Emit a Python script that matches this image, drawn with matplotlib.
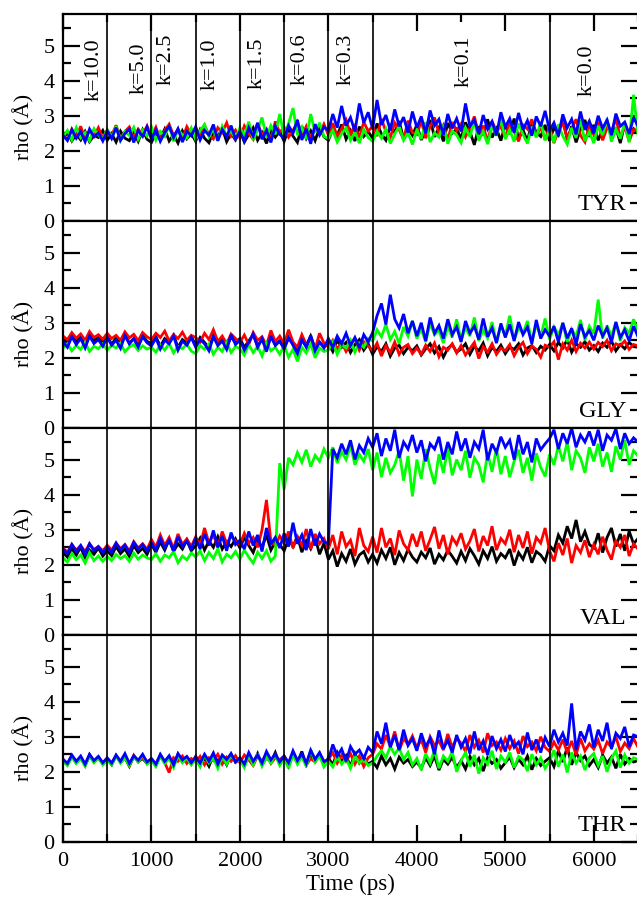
import matplotlib
matplotlib.use("Agg")
import matplotlib.pyplot as plt
from matplotlib.ticker import MultipleLocator

# ---------------- data ----------------
time_ps = list(range(0, 6501, 50))

tyr_black = [2.35,2.52,2.28,2.47,2.31,2.55,2.26,2.44,2.38,2.58,
             2.30,2.49,2.25,2.56,2.36,2.29,2.53,2.27,2.60,2.33,
             2.24,2.51,2.35,2.62,2.28,2.46,2.22,2.57,2.34,2.49,
             2.27,2.60,2.36,2.23,2.55,2.41,2.64,2.26,2.50,2.31,
             2.58,2.25,2.47,2.66,2.30,2.52,2.21,2.61,2.39,2.55,
             2.27,2.63,2.42,2.24,2.70,2.35,2.57,2.29,2.66,2.40,
             2.30,2.62,2.45,2.75,2.33,2.58,2.28,2.69,2.41,2.55,
             2.36,2.78,2.48,2.30,2.71,2.52,2.85,2.33,2.62,2.44,
             2.74,2.31,2.58,2.88,2.40,2.66,2.27,2.79,2.50,2.62,
             2.35,2.81,2.55,2.17,2.70,2.44,2.90,2.38,2.63,2.29,
             2.76,2.48,2.92,2.34,2.60,2.27,2.83,2.52,2.41,2.74,
             2.28,2.67,2.46,2.95,2.32,2.70,2.24,2.61,2.88,2.40,
             2.74,2.30,2.59,2.85,2.37,2.66,2.22,2.78,2.45,2.63,
             2.50]
tyr_red = [2.48,2.30,2.62,2.39,2.70,2.33,2.57,2.41,2.66,2.36,
           2.59,2.44,2.73,2.31,2.55,2.68,2.38,2.62,2.45,2.71,
           2.40,2.67,2.32,2.58,2.76,2.43,2.61,2.35,2.69,2.47,
           2.63,2.37,2.72,2.46,2.34,2.66,2.52,2.80,2.42,2.59,
           2.36,2.71,2.49,2.33,2.78,2.45,2.62,2.30,2.84,2.51,
           2.67,2.39,2.58,2.82,2.41,2.70,2.35,2.64,2.47,2.76,
           2.45,2.79,2.40,2.63,2.88,2.48,2.71,2.37,2.82,2.56,
           2.70,2.42,2.91,2.55,2.38,2.80,2.60,2.33,2.86,2.52,
           2.47,2.85,2.36,2.68,2.95,2.50,2.73,2.29,2.82,2.58,
           2.77,2.40,2.66,2.98,2.45,2.72,2.24,2.84,2.56,2.70,
           2.38,2.80,2.55,2.27,2.74,2.62,2.90,2.41,2.68,2.31,
           2.69,2.22,2.58,2.80,2.35,2.63,2.90,2.44,2.25,2.72,
           2.46,2.83,2.30,2.65,2.55,2.92,2.38,2.70,2.27,2.61,
           2.55]
tyr_green = [2.40,2.58,2.31,2.66,2.37,2.52,2.29,2.63,2.45,2.34,
             2.61,2.38,2.70,2.29,2.55,2.44,2.67,2.33,2.59,2.42,
             2.68,2.30,2.55,2.41,2.72,2.27,2.60,2.46,2.36,2.65,
             2.32,2.58,2.75,2.40,2.62,2.28,2.70,2.44,2.57,2.35,
             2.66,2.42,2.83,2.31,2.60,2.95,2.38,2.72,2.47,3.05,
             2.40,2.78,3.22,2.45,2.68,2.33,3.05,2.52,2.80,2.41,
             2.35,2.58,2.25,2.49,2.66,2.30,2.54,2.22,2.61,2.38,
             2.27,2.55,2.36,2.62,2.21,2.48,2.70,2.30,2.52,2.18,
             2.60,2.34,2.82,2.25,2.51,2.39,2.74,2.20,2.57,2.45,
             2.23,2.66,2.40,2.85,2.29,2.55,2.19,2.71,2.43,2.92,
             2.34,2.60,2.26,2.78,2.47,2.21,2.69,2.38,2.83,2.30,
             2.58,2.24,2.75,2.42,2.19,2.65,2.37,2.88,2.28,2.54,
             2.22,2.71,2.45,2.90,2.26,2.62,2.35,2.80,2.24,3.60,
             2.45]
tyr_blue = [2.44,2.30,2.60,2.36,2.55,2.26,2.62,2.40,2.51,2.28,
            2.57,2.35,2.66,2.30,2.49,2.62,2.24,2.58,2.41,2.68,
            2.33,2.60,2.27,2.52,2.70,2.38,2.63,2.25,2.56,2.43,
            2.69,2.31,2.58,2.45,2.75,2.29,2.61,2.40,2.72,2.34,
            2.55,2.28,2.66,2.42,2.80,2.33,2.58,2.24,2.70,2.47,
            2.36,2.72,2.50,2.88,2.31,2.63,2.20,2.76,2.45,2.68,
            2.58,3.05,2.66,3.28,2.72,2.95,2.55,3.35,2.80,3.10,
            2.62,3.45,2.74,3.02,2.58,3.18,2.70,2.96,2.52,3.12,
            2.66,2.98,2.50,3.15,2.72,2.90,2.46,3.05,2.64,2.92,
            2.55,3.35,2.70,2.88,2.48,3.02,2.62,2.84,2.44,3.10,
            2.68,2.92,2.52,3.08,2.60,2.86,2.43,2.98,2.70,3.14,
            2.58,2.80,2.42,3.04,2.66,2.90,2.47,3.12,2.60,2.85,
            2.50,3.00,2.64,2.88,2.45,3.06,2.70,2.82,2.48,2.95,
            2.70]

gly_black = [2.55,2.42,2.66,2.48,2.60,2.40,2.70,2.50,2.58,2.44,
             2.62,2.38,2.57,2.46,2.68,2.41,2.55,2.35,2.63,2.47,
             2.40,2.60,2.33,2.55,2.45,2.65,2.30,2.52,2.42,2.61,
             2.36,2.58,2.44,2.28,2.62,2.40,2.53,2.30,2.60,2.43,
             2.55,2.30,2.48,2.66,2.34,2.52,2.25,2.60,2.38,2.47,
             2.28,2.56,2.40,2.20,2.50,2.34,2.62,2.27,2.45,2.31,
             2.42,2.18,2.50,2.30,2.44,2.15,2.38,2.52,2.22,2.40,
             2.10,2.32,2.18,2.40,2.05,2.28,2.36,2.12,2.30,2.20,
             2.34,2.08,2.26,2.40,2.14,2.32,2.02,2.27,2.38,2.16,
             2.25,2.40,2.10,2.33,2.20,2.42,2.06,2.30,2.18,2.36,
             2.12,2.31,2.24,2.40,2.08,2.28,2.35,2.15,2.33,2.22,
             2.38,2.20,2.44,2.28,2.52,2.16,2.40,2.30,2.46,2.22,
             2.35,2.18,2.42,2.30,2.48,2.20,2.38,2.26,2.44,2.32,
             2.30]
gly_red = [2.62,2.52,2.72,2.56,2.68,2.50,2.75,2.58,2.66,2.53,
           2.70,2.55,2.64,2.50,2.74,2.57,2.67,2.49,2.72,2.60,
           2.52,2.70,2.58,2.76,2.48,2.66,2.55,2.73,2.50,2.64,
           2.58,2.45,2.70,2.52,2.80,2.47,2.62,2.40,2.68,2.55,
           2.44,2.65,2.38,2.72,2.50,2.60,2.35,2.78,2.46,2.62,
           2.40,2.80,2.45,2.30,2.66,2.38,2.55,2.25,2.70,2.42,
           2.30,2.50,2.25,2.44,2.18,2.38,2.55,2.22,2.46,2.34,
           2.20,2.42,2.05,2.35,2.15,2.45,2.10,2.30,2.38,2.12,
           2.28,2.10,2.36,2.18,2.42,2.03,2.30,2.22,2.40,2.14,
           2.35,2.08,2.26,2.44,1.98,2.32,2.16,2.40,2.10,2.28,
           2.20,2.38,2.06,2.30,2.44,2.12,2.34,2.24,2.02,2.36,
           2.30,2.46,1.95,2.40,2.22,2.50,2.18,2.42,2.28,2.45,
           2.25,2.44,2.32,2.50,2.20,2.40,2.35,2.48,2.24,2.38,
           2.34]
gly_green = [2.28,2.40,2.20,2.35,2.24,2.44,2.18,2.33,2.26,2.40,
             2.22,2.36,2.28,2.42,2.17,2.31,2.38,2.21,2.34,2.25,
             2.30,2.16,2.37,2.22,2.41,2.14,2.33,2.26,2.39,2.19,
             2.12,2.35,2.24,2.40,2.10,2.30,2.18,2.44,2.15,2.32,
             2.26,2.08,2.38,2.15,2.33,2.05,2.42,2.20,2.30,2.10,
             2.35,2.02,2.24,1.90,2.30,2.14,2.40,2.00,2.28,2.18,
             2.22,2.45,2.10,2.38,2.28,2.50,2.16,2.42,2.30,2.55,
             2.48,2.80,2.60,2.95,2.52,2.75,2.40,2.88,2.62,3.05,
             2.55,2.82,2.45,2.98,2.66,2.78,2.42,2.90,2.58,3.10,
             2.50,2.86,2.62,3.15,2.48,2.80,2.56,3.02,2.44,2.92,
             2.64,3.20,2.50,2.85,2.70,3.05,2.46,2.95,2.60,3.12,
             2.52,2.88,2.66,2.98,2.45,2.82,2.60,3.08,2.50,2.90,
             2.68,3.66,2.55,2.92,2.62,3.02,2.48,2.86,2.70,3.10,
             2.75]
gly_blue = [2.45,2.30,2.60,2.38,2.55,2.28,2.62,2.41,2.52,2.33,
            2.58,2.36,2.50,2.27,2.63,2.40,2.55,2.31,2.60,2.43,
            2.34,2.56,2.25,2.50,2.40,2.62,2.22,2.48,2.36,2.58,
            2.30,2.52,2.40,2.20,2.60,2.35,2.48,2.24,2.66,2.38,
            2.50,2.22,2.44,2.68,2.30,2.55,2.18,2.62,2.35,2.48,
            2.25,2.58,2.36,2.12,2.52,2.30,2.64,2.20,2.45,2.28,
            2.55,2.30,2.62,2.40,2.70,2.35,2.58,2.28,2.66,2.45,
            2.72,3.20,3.55,2.95,3.80,3.10,2.85,3.25,2.70,3.05,
            2.62,3.00,2.48,3.15,2.70,2.92,2.55,3.10,2.66,2.88,
            2.45,3.05,2.70,2.90,2.52,3.12,2.60,2.85,2.42,2.98,
            2.58,2.95,2.48,3.02,2.66,2.88,2.40,3.08,2.55,2.80,
            2.62,2.90,2.45,3.00,2.56,2.84,2.38,2.96,2.60,2.78,
            2.50,2.92,2.62,2.85,2.44,3.02,2.58,2.80,2.48,2.90,
            2.60]

val_black = [2.35,2.22,2.46,2.28,2.50,2.20,2.42,2.30,2.48,2.25,
             2.40,2.26,2.52,2.32,2.45,2.24,2.55,2.35,2.47,2.30,
             2.58,2.36,2.65,2.42,2.72,2.38,2.60,2.45,2.70,2.40,
             2.55,2.76,2.42,2.68,2.50,2.80,2.45,2.66,2.52,2.74,
             2.48,2.78,2.55,2.35,2.70,2.50,2.85,2.42,2.66,2.58,
             2.40,2.75,2.52,2.82,2.36,2.68,2.46,2.78,2.30,2.62,
             2.15,2.40,1.95,2.32,2.10,2.45,2.02,2.28,2.38,2.08,
             2.30,2.05,2.42,2.18,2.50,2.00,2.35,2.12,2.44,2.22,
             2.08,2.36,2.20,2.48,2.02,2.30,2.14,2.42,2.24,2.05,
             2.38,2.12,2.46,2.26,2.02,2.40,2.18,2.52,2.10,2.32,
             2.20,2.45,1.98,2.35,2.16,2.50,2.06,2.38,2.28,2.10,
             2.55,2.40,2.85,2.62,3.10,2.75,3.28,2.66,2.95,2.58,
             2.48,2.90,2.35,2.78,3.05,2.52,2.88,2.40,2.96,2.60,
             2.75]
val_red = [2.48,2.36,2.58,2.42,2.55,2.38,2.60,2.44,2.52,2.40,
           2.56,2.42,2.62,2.46,2.58,2.40,2.66,2.48,2.60,2.44,
           2.72,2.50,2.85,2.55,2.78,2.46,2.88,2.58,2.74,2.52,
           2.80,2.55,3.05,2.62,2.86,2.50,2.95,2.60,2.82,2.68,
           2.58,2.90,2.62,2.78,2.50,3.00,3.85,2.66,2.55,2.82,
           2.62,2.95,2.48,2.80,2.56,3.02,2.45,2.88,2.60,2.75,
           2.45,2.85,2.30,2.95,2.52,2.70,2.25,3.05,2.55,2.38,
           2.80,2.35,3.05,2.50,2.75,2.28,2.98,2.60,2.42,2.88,
           2.52,2.95,2.40,2.72,3.08,2.46,2.85,2.30,2.78,2.58,
           2.90,2.45,2.68,3.02,2.38,2.82,2.55,3.10,2.42,2.75,
           2.60,3.00,2.36,2.85,2.48,2.95,2.32,2.78,2.62,3.05,
           2.40,2.10,2.62,2.28,2.75,2.05,2.55,2.35,2.70,2.22,
           2.58,2.30,2.80,2.42,2.15,2.68,2.50,2.85,2.25,2.60,
           2.45]
val_green = [2.20,2.08,2.32,2.15,2.28,2.05,2.35,2.12,2.25,2.10,
             2.24,2.12,2.30,2.18,2.26,2.10,2.33,2.16,2.28,2.20,
             2.15,2.32,2.10,2.28,2.20,2.38,2.06,2.25,2.14,2.34,
             2.22,2.40,2.12,2.35,2.18,2.45,2.08,2.30,2.20,2.38,
             2.16,2.42,2.22,2.05,2.36,2.18,2.40,2.10,2.25,4.90,
             4.15,5.05,4.85,5.20,4.92,5.28,4.80,5.12,4.95,5.30,
             5.05,5.35,4.90,5.22,5.00,5.40,4.85,5.15,4.95,5.30,
             4.70,5.20,4.50,5.05,4.62,4.85,5.25,4.40,5.10,3.95,
             5.00,4.45,5.30,4.75,4.30,5.15,4.62,5.35,4.55,5.00,
             4.70,5.25,4.48,5.05,4.85,4.35,5.20,4.65,5.32,4.58,
             5.10,4.50,4.95,5.28,4.62,5.05,4.40,5.18,4.78,4.52,
             5.15,4.85,5.40,4.95,5.50,4.70,5.25,5.05,4.62,5.35,
             4.95,5.45,4.80,5.20,4.65,5.38,5.00,5.55,4.85,5.25,
             5.10]
val_blue = [2.45,2.32,2.58,2.38,2.55,2.30,2.60,2.40,2.52,2.35,
            2.50,2.36,2.62,2.42,2.56,2.34,2.64,2.45,2.58,2.40,
            2.62,2.42,2.75,2.48,2.70,2.40,2.80,2.52,2.68,2.45,
            2.75,2.45,2.88,2.55,2.98,2.50,2.82,2.40,2.92,2.58,
            2.70,2.45,2.95,2.55,2.85,2.38,3.05,2.60,2.78,2.48,
            2.90,2.52,3.20,2.60,2.85,2.42,3.02,2.55,2.88,2.65,
            2.60,5.30,5.05,5.45,5.15,5.55,5.00,5.40,5.20,5.60,
            5.35,5.75,5.10,5.60,5.25,5.85,5.05,5.50,5.30,5.70,
            5.20,5.55,4.95,5.45,5.30,5.65,5.00,5.50,5.15,5.80,
            5.25,5.60,5.05,5.50,5.30,5.85,4.98,5.45,5.20,5.65,
            5.35,5.55,5.00,5.70,5.15,5.50,4.92,5.60,5.28,5.45,
            5.60,5.85,5.30,5.75,5.45,5.90,5.35,5.70,5.50,5.80,
            5.40,5.85,5.25,5.70,5.55,5.88,5.30,5.75,5.45,5.62,
            5.50]

thr_black = [2.32,2.20,2.45,2.25,2.40,2.18,2.48,2.28,2.42,2.22,
             2.36,2.20,2.46,2.27,2.40,2.16,2.44,2.30,2.38,2.24,
             2.34,2.18,2.47,2.26,2.42,2.20,2.50,2.28,2.38,2.22,
             2.44,2.25,2.38,2.16,2.48,2.30,2.42,2.20,2.50,2.27,
             2.35,2.18,2.46,2.24,2.52,2.20,2.40,2.28,2.55,2.22,
             2.38,2.15,2.50,2.26,2.58,2.20,2.45,2.30,2.52,2.18,
             2.40,2.20,2.55,2.28,2.46,2.15,2.52,2.25,2.42,2.22,
             2.30,2.12,2.45,2.20,2.38,2.08,2.42,2.25,2.35,2.15,
             2.28,2.10,2.40,2.18,2.45,2.05,2.36,2.22,2.42,2.12,
             2.32,2.08,2.44,2.20,2.38,2.02,2.40,2.24,2.35,2.10,
             2.26,2.42,2.12,2.36,2.20,2.45,2.06,2.38,2.18,2.30,
             2.40,2.15,2.60,2.28,2.70,2.20,2.55,2.32,2.45,2.18,
             2.35,2.12,2.48,2.25,2.42,2.10,2.50,2.22,2.38,2.28,
             2.32]
thr_red = [2.35,2.22,2.46,2.28,2.42,2.20,2.48,2.30,2.40,2.25,
           2.38,2.24,2.45,2.30,2.42,2.18,2.47,2.28,2.40,2.26,
           2.36,2.22,2.48,2.26,1.98,2.40,2.30,2.45,2.24,2.38,
           2.28,2.44,2.20,2.40,2.32,2.50,2.22,2.42,2.30,2.46,
           2.26,2.48,2.34,2.18,2.45,2.30,2.52,2.24,2.40,2.35,
           2.45,2.22,2.55,2.32,2.48,2.20,2.38,2.28,2.50,2.25,
           2.35,2.55,2.25,2.48,2.30,2.52,2.22,2.45,2.15,2.40,
           2.50,2.80,2.65,3.05,2.72,3.15,2.60,2.95,2.78,3.02,
           2.68,2.92,2.55,3.00,2.75,2.88,2.62,3.08,2.70,2.95,
           2.82,2.58,3.05,2.70,2.90,2.55,3.10,2.75,2.85,2.62,
           2.95,2.66,2.88,2.52,3.02,2.72,2.85,2.60,3.00,2.70,
           2.58,2.85,2.62,2.92,2.55,2.88,2.48,2.95,2.60,2.80,
           2.65,2.90,2.52,2.85,2.70,3.00,2.58,2.82,2.66,2.95,
           2.70]
thr_green = [2.30,2.18,2.42,2.24,2.38,2.16,2.45,2.26,2.40,2.20,
             2.34,2.20,2.46,2.25,2.40,2.18,2.44,2.28,2.48,2.22,
             2.32,2.15,2.44,2.24,2.38,2.12,2.46,2.26,2.40,2.20,
             2.36,2.14,2.48,2.25,2.40,2.10,2.44,2.22,2.50,2.28,
             2.34,2.12,2.46,2.20,2.52,2.16,2.42,2.25,2.48,2.18,
             2.38,2.10,2.50,2.22,2.44,2.15,2.62,2.28,2.46,2.14,
             2.30,2.14,2.44,2.22,2.38,2.10,2.46,2.25,2.36,2.18,
             2.25,2.45,2.60,2.40,2.72,2.50,2.68,2.35,2.55,2.20,
             2.38,2.05,2.52,2.25,2.62,2.10,2.45,2.30,2.58,2.00,
             2.32,2.55,2.15,2.48,1.95,2.40,2.22,2.60,2.08,2.45,
             2.28,2.55,2.12,2.44,2.35,2.02,2.50,2.20,2.40,2.10,
             2.30,2.62,2.15,2.50,1.98,2.55,2.25,2.45,2.05,2.40,
             2.52,2.18,2.45,2.00,2.38,2.60,2.12,2.48,2.25,2.40,
             2.35]
thr_blue = [2.36,2.24,2.48,2.30,2.45,2.22,2.50,2.32,2.44,2.26,
            2.40,2.25,2.48,2.30,2.52,2.24,2.46,2.33,2.50,2.28,
            2.38,2.22,2.50,2.30,2.46,2.20,2.52,2.34,2.44,2.26,
            2.42,2.25,2.50,2.30,2.54,2.22,2.48,2.35,2.52,2.28,
            2.40,2.22,2.55,2.30,2.48,2.25,2.58,2.34,2.50,2.28,
            2.45,2.26,2.60,2.32,2.52,2.24,2.62,2.36,2.55,2.30,
            2.35,2.78,2.45,2.65,2.30,2.72,2.50,2.62,2.38,2.70,
            2.55,3.15,2.80,3.40,2.70,3.05,2.62,3.20,2.75,2.95,
            2.60,3.10,2.72,2.95,2.50,3.18,2.66,2.90,2.55,3.05,
            2.70,2.95,2.52,3.15,2.62,2.88,2.48,3.02,2.66,2.92,
            2.58,3.05,2.70,2.85,2.50,3.12,2.62,2.92,2.55,2.98,
            2.72,3.20,2.85,3.10,2.75,3.95,2.62,3.15,2.90,3.35,
            2.70,3.20,2.88,3.40,2.65,3.10,2.95,3.28,2.72,3.05,
            3.00]

residues = ["TYR", "GLY", "VAL", "THR"]
panel_series = [
    [tyr_black, tyr_red, tyr_green, tyr_blue],
    [gly_black, gly_red, gly_green, gly_blue],
    [val_black, val_red, val_green, val_blue],
    [thr_black, thr_red, thr_green, thr_blue],
]
series_colors = ["#000000", "#ff0000", "#00ff00", "#0000ff"]

window_edges = [500, 1000, 1500, 2000, 2500, 3000, 3500, 5500]
k_labels = ["k=10.0", "k=5.0", "k=2.5", "k=1.0", "k=1.5", "k=0.6", "k=0.3", "k=0.1", "k=0.0"]
k_label_x = [350, 860, 1165, 1660, 2190, 2680, 3205, 4540, 5920]
k_label_y = [4.31, 4.34, 4.60, 4.46, 4.49, 4.60, 4.60, 4.54, 4.31]

# ---------------- figure ----------------
plt.rcParams['font.family'] = ['Liberation Serif', 'DejaVu Serif']

W, H = 637, 899
fig = plt.figure(figsize=(W / 100, H / 100), dpi=100, facecolor='white')

left = 63 / W
width = (638 - 63) / W
top_px, bot_px = 14, 842
ph = (bot_px - top_px) / 4 / H

FS = 16
axes = []
for i in range(4):
    bottom = 1 - (top_px / H) - (i + 1) * ph
    ax = fig.add_axes([left, bottom, width, ph])
    axes.append(ax)
    for s, c in zip(panel_series[i], series_colors):
        ax.plot(time_ps, s, color=c, lw=2.0, zorder=2, solid_joinstyle='miter')
    for xe in window_edges:
        ax.axvline(xe, color='black', lw=1.2, zorder=3)
    ax.set_xlim(0, 6500)
    ax.set_ylim(0, 5.9)
    ax.yaxis.set_major_locator(MultipleLocator(1))
    ax.yaxis.set_minor_locator(MultipleLocator(0.5))
    ax.xaxis.set_major_locator(MultipleLocator(1000))
    ax.xaxis.set_minor_locator(MultipleLocator(500))
    for sp in ax.spines.values():
        sp.set_linewidth(1.6)
        sp.set_zorder(4)
    ax.tick_params(axis='y', which='both', direction='in', left=True, right=True,
                   width=1.6, labelsize=FS, pad=6)
    ax.tick_params(axis='y', which='major', length=12)
    ax.tick_params(axis='y', which='minor', length=6)
    ax.tick_params(axis='x', which='both', direction='in', width=1.6,
                   top=(i == 0), bottom=(i == 3), labelbottom=(i == 3),
                   labeltop=False, labelsize=FS, pad=7)
    ax.tick_params(axis='x', which='major', length=12)
    ax.tick_params(axis='x', which='minor', length=6)
    ax.set_ylabel("rho (Å)", fontsize=FS)
    ax.yaxis.set_label_coords(-0.05, 0.455)
    ax.text(6370, 0.3, residues[i], ha='right', va='baseline', fontsize=17.5, zorder=5)

for lab, xx, yy in zip(k_labels, k_label_x, k_label_y):
    axes[0].text(xx, yy, lab, rotation=90, ha='center', va='center', fontsize=FS, zorder=5)

axes[3].set_xlabel("Time (ps)", fontsize=16.5, labelpad=2)

fig.savefig("out.png", dpi=100, facecolor='white')
